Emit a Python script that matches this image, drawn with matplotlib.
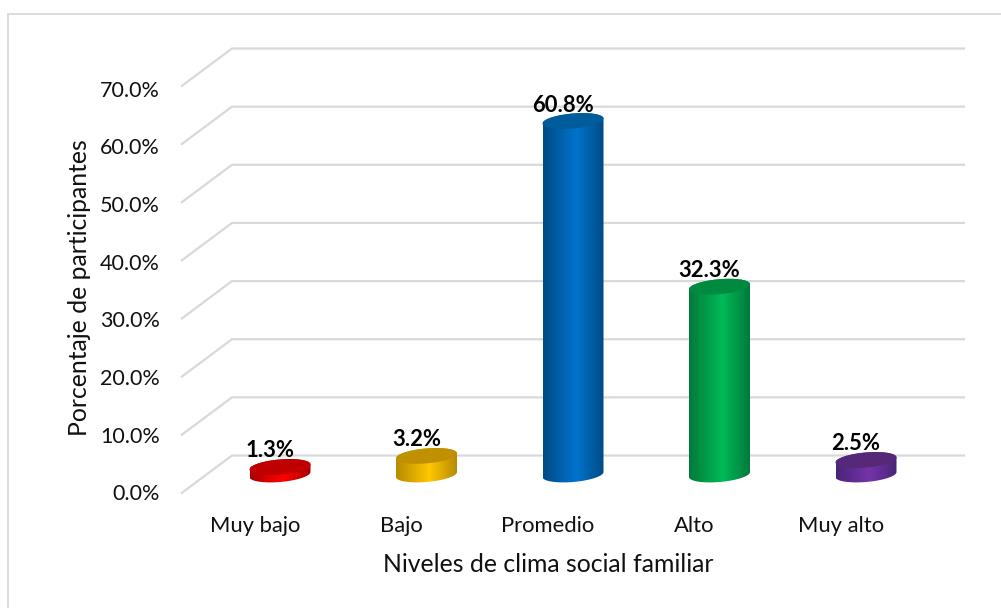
import numpy as np
import matplotlib
matplotlib.use("Agg")
import matplotlib.pyplot as plt
from matplotlib.colors import LinearSegmentedColormap
from matplotlib.lines import Line2D
from matplotlib.patches import PathPatch
from matplotlib.path import Path

categories = ["Muy bajo", "Bajo", "Promedio", "Alto", "Muy alto"]
values = [1.3, 3.2, 60.8, 32.3, 2.5]
labels = ["1.3%", "3.2%", "60.8%", "32.3%", "2.5%"]
y_ticks = [0, 10, 20, 30, 40, 50, 60, 70]
side_dark = ["#A80000", "#B88A00", "#004B85", "#007A3A", "#4A2478"]
side_light = ["#FF0000", "#FFC800", "#0074CC", "#00BA58", "#7434A8"]
top_color = ["#C00000", "#C09000", "#005C9A", "#008A40", "#552878"]

plt.rcParams["font.family"] = ["Lato", "DejaVu Sans"]
W, H = 1001, 608
fig = plt.figure(figsize=(W / 100, H / 100), dpi=100)
fig.patch.set_facecolor("white")
PT = 0.72  # points per pixel at 100 dpi


def px_axes(l, t, r, b):
    return [l / W, 1 - b / H, (r - l) / W, (b - t) / H]


# Plot area
ax = fig.add_axes(px_axes(181, 48, 965, 493))
PX_X = 146.5
PX_Y = 5.814
xlim = (-(280 - 181) / PX_X, (965 - 280) / PX_X)
ylim = (-(493 - 474.5) / PX_Y, (474.5 - 48) / PX_Y)
ax.axis("off")

# 3D floor/wall gridlines
dy = 19 / PX_Y
x_front = xlim[0]
x_back = -(280 - 232) / PX_X
for v in y_ticks:
    ax.plot([x_front, x_back, xlim[1]], [v - dy, v + dy, v + dy], color="#D9D9D9",
            lw=1.6, solid_joinstyle="miter", solid_capstyle="butt", zorder=1, clip_on=False)

# Cylinders
a = 30.5 / PX_X
b = 7.5 / PX_Y
s = 2.5 / PX_Y
t = np.linspace(0, 2 * np.pi, 121)
for i, v in enumerate(values):
    ex, ey = i + a * np.cos(t), b * np.sin(t) + s * np.cos(t)
    lower = np.linspace(np.pi, 2 * np.pi, 61)
    upper = np.linspace(0, np.pi, 61)
    bx = np.r_[i + a * np.cos(lower), i + a * np.cos(upper)]
    by = np.r_[b * np.sin(lower) + s * np.cos(lower), v + b * np.sin(upper) + s * np.cos(upper)]
    body = PathPatch(Path(np.c_[bx, by]), transform=ax.transData, fc="none", ec="none")
    ax.add_patch(body)
    cmap = LinearSegmentedColormap.from_list(
        "c", [(0, side_dark[i]), (0.55, side_light[i]), (1, side_dark[i])])
    grad = np.linspace(0, 1, 128).reshape(1, -1)
    im = ax.imshow(grad, cmap=cmap, aspect="auto", interpolation="bilinear",
                   extent=[i - a, i + a, -b - s - 1, v + b + s + 1], zorder=3)
    im.set_clip_path(body)
    ax.fill(ex, v + ey, color=top_color[i], lw=0, zorder=4)
    ax.annotate(labels[i], (i, v), xytext=(-10 * PT, 16 * PT), textcoords="offset points",
                ha="center", va="center", fontsize=15.8, fontweight="bold",
                color="black", zorder=5)
ax.set_xlim(xlim)
ax.set_ylim(ylim)

# Tick labels and axis titles
for v in y_ticks:
    ax.annotate(f"{v:.1f}%", (x_front, v - dy), xytext=(-21 * PT, -(1 + 3 * v / 70) * PT),
                textcoords="offset points", ha="right", va="center",
                fontsize=15.5, color="#111111")
for i, c in enumerate(categories):
    ax.annotate(c, (i, -dy), xytext=(-25 * PT, -32 * PT), textcoords="offset points",
                ha="center", va="center", fontsize=15.8, color="#111111")
fig.text(548 / W, 1 - 564 / H, "Niveles de clima social familiar", ha="center", va="center",
         fontsize=17.8, color="#111111")
fig.text(80 / W, 1 - 288 / H, "Porcentaje de participantes", rotation=90, ha="center",
         va="center", fontsize=17.8, color="#111111")

# Chart frame: top and left edges reach the image border
fig.add_artist(Line2D([8 / W, 8 / W, 1], [0, 1 - 14 / H, 1 - 14 / H], transform=fig.transFigure,
                      color="#D9D9D9", lw=1.3, solid_joinstyle="miter"))

fig.savefig("out.png", dpi=100)
